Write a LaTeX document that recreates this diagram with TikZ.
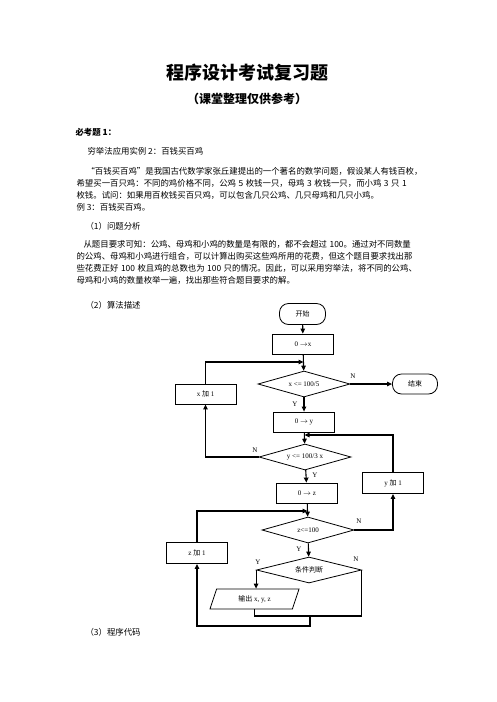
\documentclass[tikz,border=0pt]{standalone}
\usepackage{fontspec}
\setmainfont{Liberation Serif}
\newfontfamily\cjk{Noto Sans CJK SC}
\usetikzlibrary{arrows.meta, shapes.geometric}
\XeTeXlinebreaklocale "zh"
\XeTeXlinebreakskip=0pt plus 4pt
\newcommand\fullline{\noindent\parfillskip=0pt\spaceskip=2.5pt plus 0.5pt\relax}

\begin{document}
\begin{tikzpicture}[x=1pt, y=-1pt, line width=1.1pt, >={Triangle[length=5pt,width=4.5pt]}]
    \tikzstyle{body}=[font=\cjk\fontsize{8.4}{10}\selectfont, inner sep=0pt, anchor=west]
    \tikzstyle{justified}=[body, align=justify]
    \tikzstyle{head}=[body, font=\cjk\bfseries\fontsize{8.4}{10}\selectfont]
    \tikzstyle{flow}=[draw, line width=0.8pt, font=\fontsize{7}{8}\selectfont, inner sep=1pt]
    \tikzstyle{process}=[flow, rectangle, minimum width=61pt, minimum height=20pt]
    \tikzstyle{terminal}=[flow, rectangle, rounded corners=9pt, minimum width=46pt, minimum height=21pt]
    \tikzstyle{decision}=[flow, diamond, aspect=3.5, minimum width=92pt, minimum height=26pt]
    \tikzstyle{io}=[flow, trapezium, trapezium left angle=55, trapezium right angle=125, trapezium stretches body, minimum width=89pt, minimum height=20pt]
    \tikzstyle{tag}=[font=\fontsize{7}{8}\selectfont, inner sep=0pt]

    \useasboundingbox (0,0) rectangle (496,702);

    % page text
    \node[font=\cjk\bfseries\fontsize{18}{20}\selectfont] (title) at (247,73) {程序设计考试复习题};
    \node[font=\cjk\bfseries\fontsize{12}{14}\selectfont] (subtitle) at (247,99) {（课堂整理仅供参考）};
    \node[head] (must) at (75,132) {必考题 1：};
    \node[body] (case) at (87,151) {穷举法应用实例 2：百钱买百鸡};

    \node[justified, text width=336pt] (p1a) at (86,171) {\fullline “百钱买百鸡”是我国古代数学家张丘建提出的一个著名的数学问题，假设某人有钱百枚，};
    \node[justified, text width=346pt] (p1b) at (76,183) {\fullline 希望买一百只鸡：不同的鸡价格不同，公鸡 5 枚钱一只，母鸡 3 枚钱一只，而小鸡 3 只 1};
    \node[body] (p1c) at (76,195) {枚钱。试问：如果用百枚钱买百只鸡，可以包含几只公鸡、几只母鸡和几只小鸡。};
    \node[body] (p1d) at (76,207) {例 3：百钱买百鸡。};

    \node[body] (sec1) at (85,226) {（1）问题分析};
    \node[justified, text width=339pt] (p2a) at (83,244) {\fullline 从题目要求可知：公鸡、母鸡和小鸡的数量是有限的，都不会超过 100。通过对不同数量};
    \node[justified, text width=346pt] (p2b) at (76,256) {\fullline 的公鸡、母鸡和小鸡进行组合，可以计算出购买这些鸡所用的花费，但这个题目要求找出那};
    \node[justified, text width=346pt] (p2c) at (76,268) {\fullline 些花费正好 100 枚且鸡的总数也为 100 只的情况。因此，可以采用穷举法，将不同的公鸡、};
    \node[body] (p2d) at (76,280) {母鸡和小鸡的数量枚举一遍，找出那些符合题目要求的解。};

    \node[body] (sec2) at (85,305) {（2）算法描述};
    \node[body] (sec3) at (85,632) {（3）程序代码};

    % flowchart
    \node[terminal] (start) at (302.5,314) {\cjk 开始};
    \node[process] (bx) at (303,344) {0 $\rightarrow$x};
    \node[decision] (d1) at (304,384) {x <= 100/5};
    \node[terminal, minimum width=45pt, minimum height=20pt] (stop) at (415,384) {\cjk 结束};
    \node[process] (xinc) at (205.5,394) {x {\cjk 加} 1};
    \node[process] (by) at (304,422) {0 $\rightarrow$ y};
    \node[decision] (d2) at (305,457) {y <= 100/3 x};
    \node[process] (bz) at (307,493) {0 $\rightarrow$ z};
    \node[process, minimum height=21pt] (yinc) at (393,483) {y {\cjk 加} 1};
    \node[decision] (d3) at (308,530) {z<=100};
    \node[process, minimum height=21pt] (zinc) at (197,553) {z {\cjk 加} 1};
    \node[decision, minimum width=105pt] (d4) at (309,570) {\cjk 条件判断};
    \node[io] (out) at (254.5,599) {{\cjk 输出} x, y, z};

    \coordinate (jx) at (303.5,362);
    \coordinate (jy) at (304.5,435);
    \coordinate (jz) at (307.5,511);
    \coordinate (mj) at (310,616);
    \coordinate (lz) at (310,626);

    \draw[->] (start) -- (bx);
    \draw[->] (bx) -- (d1);
    \draw[->] (d1) -- (stop);
    \draw[->] (d1) -- (by);
    \draw[->] (xinc.north) |- (jx);
    \draw[->] (by) -- (d2);
    \draw[->] (d2.west) -| (xinc.south);
    \draw[->] (d2) -- (bz);
    \draw[->] (bz) -- (d3);
    \draw[->] (d3.east) -| (yinc.south);
    \draw[->] (yinc.north) |- (jy);
    \draw[->] (d3) -- (d4);
    \draw[->] (zinc.north) |- (jz);
    \draw[->] (d4.west) -- (d4.west |- out.north);
    \draw (out.south) |- (mj) -| (d4.east);
    \draw[->] (mj) -- (lz) -| (zinc.south);

    \node[tag] (n1) at (353,376) {N};
    \node[tag] (y1) at (295,404) {Y};
    \node[tag] (n2) at (255,450) {N};
    \node[tag] (y2) at (315,475) {Y};
    \node[tag] (n3) at (359,521) {N};
    \node[tag] (y3) at (299,549) {Y};
    \node[tag] (y4) at (258,562) {Y};
    \node[tag] (n4) at (356,559) {N};
\end{tikzpicture}
\end{document}
